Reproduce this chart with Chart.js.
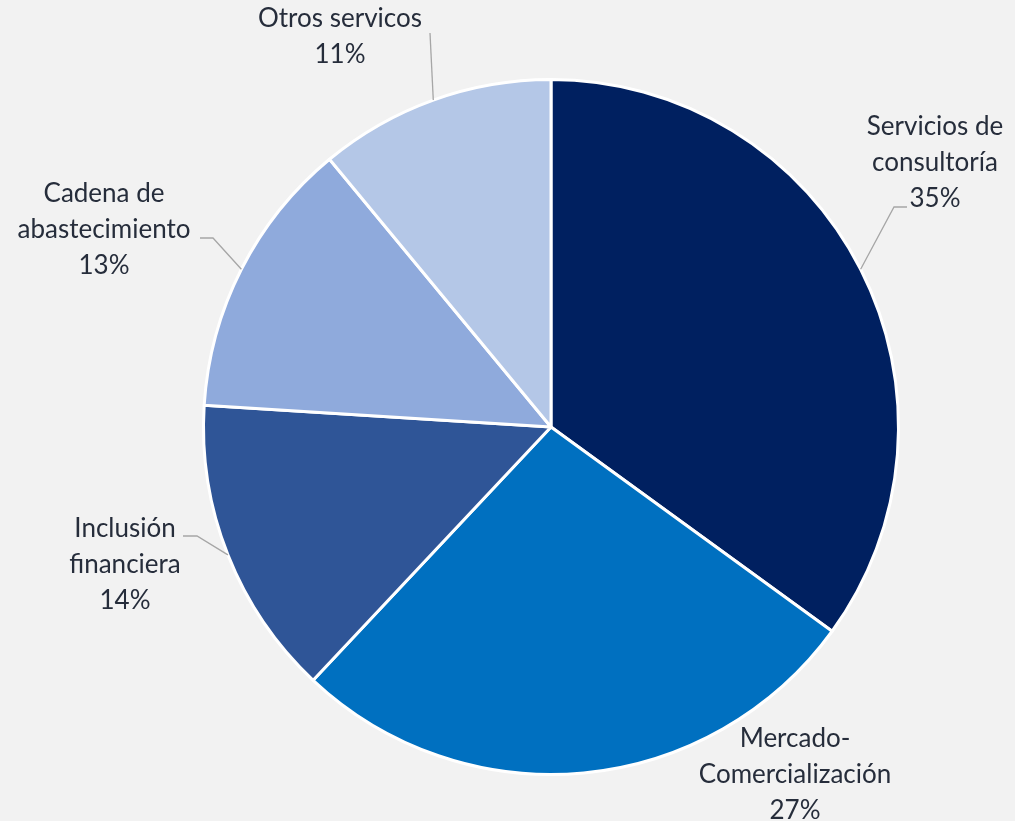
<!DOCTYPE html>
<html>
<head>
<meta charset="utf-8">
<script src="https://cdn.jsdelivr.net/npm/chart.js@4/dist/chart.umd.min.js"></script>
<style>
  html, body { margin: 0; padding: 0; background: #f2f2f2; }
  #wrap { width: 1015px; height: 821px; }
</style>
</head>
<body>
<div id="wrap"><canvas id="pie" width="1015" height="821"></canvas></div>
<script>
// data, clockwise from 12 o'clock
const categories = [
  "Servicios de consultoría",
  "Mercado-Comercialización",
  "Inclusión financiera",
  "Cadena de abastecimiento",
  "Otros servicos",
];
const shares = [35, 27, 14, 13, 11];
const sliceColors = ["#002060", "#0070c0", "#2f5597", "#8faadc", "#b4c7e7"];

// how each label is broken into lines (last line is the percentage)
const labelLines = [
  ["Servicios de", "consultoría"],
  ["Mercado-", "Comercialización"],
  ["Inclusión", "financiera"],
  ["Cadena de", "abastecimiento"],
  ["Otros servicos"],
];

// label placement: centre x, first baseline, leader elbow + end (null = no leader)
const labelPlace = [
  { x: 935, y: 135, elbow: [894, 207], end: [907, 207] },
  { x: 795, y: 747, elbow: null, end: null },
  { x: 125, y: 537, elbow: [197, 536], end: [183, 536] },
  { x: 104, y: 202, elbow: [213, 238], end: [200, 238] },
  { x: 340, y: 27, elbow: null, end: [430, 33] },
];

const pieLabels = {
  id: "pieLabels",
  afterDatasetsDraw(chart) {
    const ctx = chart.ctx;
    const arcs = chart.getDatasetMeta(0).data;
    ctx.save();
    arcs.forEach((arc, i) => {
      const p = labelPlace[i];
      // leader line from the arc edge at the middle angle
      if (p.end) {
        const mid = (arc.startAngle + arc.endAngle) / 2;
        const sx = arc.x + Math.cos(mid) * arc.outerRadius;
        const sy = arc.y + Math.sin(mid) * arc.outerRadius;
        ctx.beginPath();
        ctx.moveTo(sx, sy);
        if (p.elbow) ctx.lineTo(p.elbow[0], p.elbow[1]);
        ctx.lineTo(p.end[0], p.end[1]);
        ctx.strokeStyle = "#a6a6a6";
        ctx.lineWidth = 1.3;
        ctx.stroke();
      }
      const lines = labelLines[i].concat([shares[i] + "%"]);
      ctx.fillStyle = "#262d3b";
      ctx.font = '26px Lato, "Open Sans", sans-serif';
      ctx.textAlign = "center";
      ctx.textBaseline = "alphabetic";
      lines.forEach((t, k) => ctx.fillText(t, p.x, p.y + k * 36));
    });
    ctx.restore();
  },
};

new Chart(document.getElementById("pie"), {
  type: "pie",
  data: {
    labels: categories,
    datasets: [
      {
        data: shares,
        backgroundColor: sliceColors,
        borderColor: "#ffffff",
        borderWidth: 3,
        hoverOffset: 0,
      },
    ],
  },
  options: {
    responsive: false,
    animation: false,
    events: [],
    layout: { padding: { left: 202, right: 115, top: 78, bottom: 45 } },
    plugins: {
      legend: { display: false },
      tooltip: { enabled: false },
    },
  },
  plugins: [pieLabels],
});
</script>
</body>
</html>
